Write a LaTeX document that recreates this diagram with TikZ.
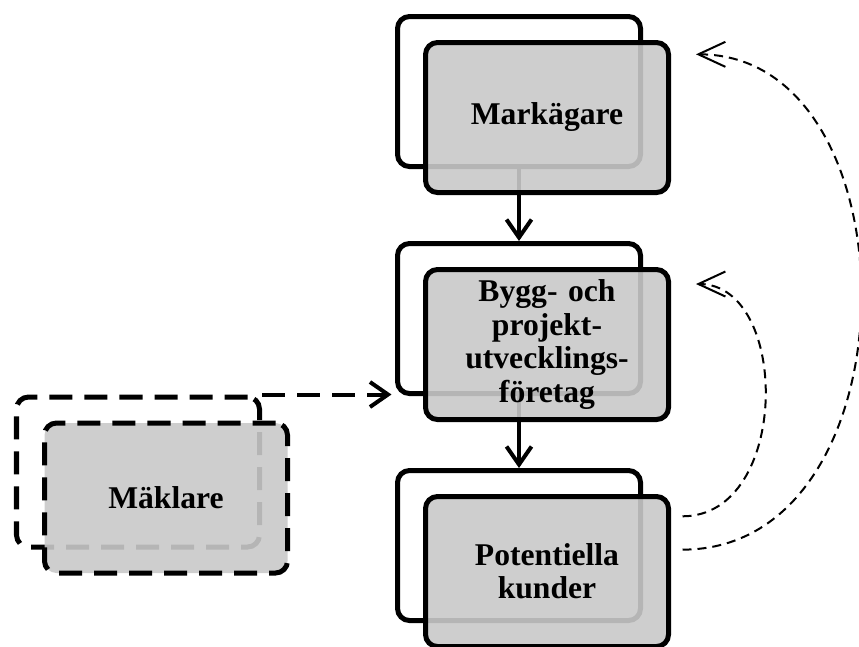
\documentclass[tikz,border=0pt]{standalone}
\usepackage{fontspec}
\setmainfont{Liberation Serif}
\usetikzlibrary{arrows.meta}
\tikzstyle{bakruta} = [rectangle, rounded corners=0.24cm, draw=black, line width=0.1cm, minimum width=4.86cm, minimum height=3cm, inner sep=0pt]
\tikzstyle{framruta} = [bakruta, fill=black!21, fill opacity=0.9, text opacity=1, text width=4.4cm, align=center, font=\bfseries\fontsize{18}{19}\selectfont]
\tikzstyle{streckad} = [dash pattern=on 0.46cm off 0.24cm]
\tikzstyle{pil} = [line width=0.08cm, -{Straight Barb[length=0.36cm, width=0.5cm]}]
\tikzstyle{kurva} = [line width=0.04cm, dash pattern=on 0.18cm off 0.12cm, -{Straight Barb[length=0.54cm, width=0.5cm]}]

\begin{document}
\begin{tikzpicture}
        \useasboundingbox (0,0) rectangle (17.18,-12.92);

        %% rutor bak
        \node (markB) [bakruta] at (10.38,-1.83) {};
        \node (byggB) [bakruta] at (10.38,-6.37) {};
        \node (potB) [bakruta] at (10.38,-10.91) {};
        \node (makB) [bakruta, streckad] at (2.76,-9.44) {};

        %% pilar
        \draw[pil] (markB.south) -- (byggB.north);
        \draw[pil] (byggB.south) -- (potB.north);
        \draw[pil, streckad, shorten >=2pt] (makB.north east) -- (makB.north east -| byggB.west);

        %% rutor fram
        \node (mark) [framruta, xshift=0.56cm, yshift=-0.52cm] at (markB) {Markägare};
        \node (bygg) [framruta, xshift=0.56cm, yshift=-0.52cm] at (byggB) {Bygg- och\\ projekt-\\ utvecklings-\\ företag};
        \node (pot) [framruta, xshift=0.56cm, yshift=-0.52cm] at (potB) {Potentiella\\ kunder};
        \node (mak) [framruta, streckad, xshift=0.56cm, yshift=-0.52cm] at (makB) {Mäklare};

        %% återkoppling
        \draw[kurva, shorten <=0.23cm, shorten >=0.5cm] (pot.24) to[out=0, in=0, looseness=1.32] (bygg.26);
        \draw[kurva, shorten <=0.23cm, shorten >=0.5cm] (pot.10) to[out=0, in=0, looseness=1.28] (mark.27);

\end{tikzpicture}
\end{document}
